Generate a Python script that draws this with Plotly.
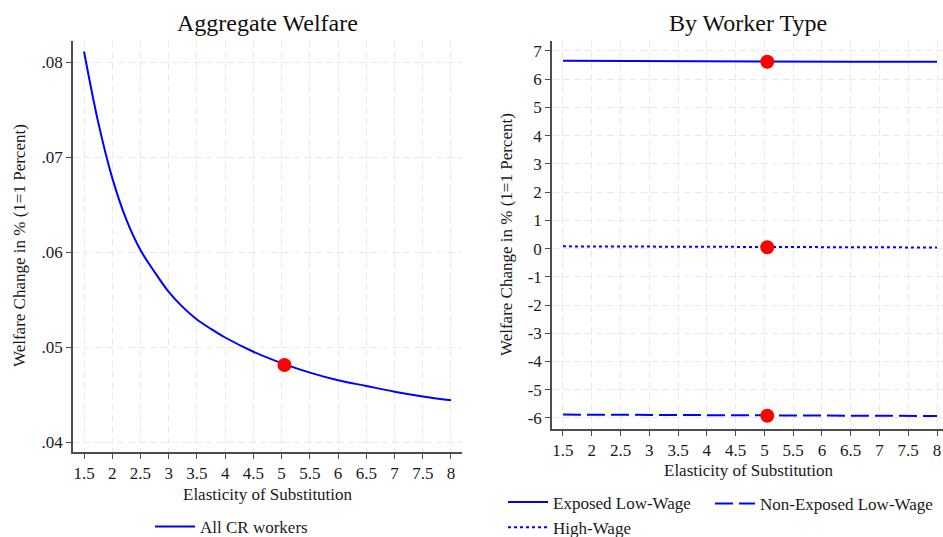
import plotly.graph_objects as go

# ---------------- data ----------------
sigma_agg = [1.5, 1.75, 2.0, 2.25, 2.5, 2.75, 3.0, 3.25, 3.5, 3.75, 4.0, 4.5, 5.0,
             5.5, 6.0, 6.5, 7.0, 7.5, 8.0]
agg_welfare = [0.0811, 0.0737, 0.0678, 0.0634, 0.0602, 0.0579, 0.0558, 0.0542,
               0.0529, 0.0519, 0.0510, 0.0495, 0.0483, 0.0473, 0.0465, 0.0459,
               0.0453, 0.0448, 0.0444]

sigma = [1.5, 2.0, 2.5, 3.0, 3.5, 4.0, 4.5, 5.0, 5.5, 6.0, 6.5, 7.0, 7.5, 8.0]
exposed_low = [6.65, 6.645, 6.64, 6.635, 6.63, 6.628, 6.625,
               6.623, 6.622, 6.62, 6.62, 6.62, 6.618, 6.618]
nonexposed_low = [-5.88, -5.885, -5.89, -5.895, -5.90, -5.905, -5.91,
                  -5.915, -5.92, -5.92, -5.925, -5.925, -5.93, -5.93]
high_wage = [0.08, 0.075, 0.07, 0.065, 0.06, 0.057, 0.054,
             0.052, 0.05, 0.048, 0.046, 0.044, 0.042, 0.04]

sigma_base = [5.05]
agg_base = [0.0481]
type_base = [6.62, 0.05, -5.92]

x_ticks = [1.5, 2, 2.5, 3, 3.5, 4, 4.5, 5, 5.5, 6, 6.5, 7, 7.5, 8]
x_ticklabels = ["1.5", "2", "2.5", "3", "3.5", "4", "4.5", "5", "5.5", "6",
                "6.5", "7", "7.5", "8"]
agg_ticks = [0.04, 0.05, 0.06, 0.07, 0.08]
agg_ticklabels = [".04", ".05", ".06", ".07", ".08"]
type_ticks = [-6, -5, -4, -3, -2, -1, 0, 1, 2, 3, 4, 5, 6, 7]
type_ticklabels = [str(v) for v in type_ticks]

# ---------------- styling ----------------
W, H = 943, 537
OFF = 0  # page body margin removed via post_script
FONT = "Liberation Serif, Times New Roman, serif"
AX = "#4d4d4d"
GRID = "#e9e9e9"
BLUE = "#0000ff"
RED = "#ff0000"
TXT = "#1a1a1a"

def px_x(p):
    return (p - OFF) / W

def px_y(p):
    return 1 - (p - OFF) / H

fig = go.Figure()

# Left panel
fig.add_trace(go.Scatter(x=sigma_agg, y=agg_welfare, mode="lines", name="All CR workers",
                         line=dict(color=BLUE, width=2, shape="spline", smoothing=1.0),
                         xaxis="x", yaxis="y", legend="legend"))
fig.add_trace(go.Scatter(x=sigma_base, y=agg_base, mode="markers", showlegend=False,
                         marker=dict(color=RED, size=14), xaxis="x", yaxis="y"))

# Right panel
fig.add_trace(go.Scatter(x=sigma, y=exposed_low, mode="lines", name="Exposed Low-Wage",
                         line=dict(color=BLUE, width=2),
                         xaxis="x2", yaxis="y2", legend="legend2"))
fig.add_trace(go.Scatter(x=sigma, y=nonexposed_low, mode="lines", name="Non-Exposed Low-Wage",
                         line=dict(color=BLUE, width=2, dash="18px,6px"),
                         xaxis="x2", yaxis="y2", legend="legend3"))
fig.add_trace(go.Scatter(x=sigma, y=high_wage, mode="lines", name="High-Wage",
                         line=dict(color=BLUE, width=2, dash="3px,3px"),
                         xaxis="x2", yaxis="y2", legend="legend2"))
fig.add_trace(go.Scatter(x=sigma_base * 3, y=type_base, mode="markers", showlegend=False,
                         marker=dict(color=RED, size=14), xaxis="x2", yaxis="y2"))

axis_common = dict(showline=True, linecolor=AX, linewidth=1.5, ticks="outside",
                   ticklen=5, tickwidth=1.2, tickcolor=AX, showgrid=True,
                   gridcolor=GRID, gridwidth=1, griddash="7px,4px", zeroline=False,
                   tickfont=dict(family=FONT, size=17, color=TXT), mirror=False,
                   automargin=False)

leg_common = dict(xref="container", yref="container", xanchor="left", yanchor="middle",
                  orientation="v", bgcolor="rgba(0,0,0,0)", itemwidth=40,
                  font=dict(family=FONT, size=17, color=TXT))

fig.update_layout(
    width=W, height=H, margin=dict(l=0, r=0, t=0, b=0, autoexpand=False),
    paper_bgcolor="white", plot_bgcolor="white",
    font=dict(family=FONT, size=17, color=TXT),
    xaxis=dict(domain=[px_x(73), px_x(462)], range=[1.305, 8.195], anchor="y",
               tickvals=x_ticks, ticktext=x_ticklabels, **axis_common),
    yaxis=dict(domain=[px_y(452), px_y(41)], range=[0.038947, 0.08221], anchor="x",
               tickvals=agg_ticks, ticktext=agg_ticklabels, **axis_common),
    xaxis2=dict(domain=[px_x(552), px_x(943)], range=[1.3092, 8.104], anchor="y2",
                tickvals=x_ticks, ticktext=x_ticklabels, **axis_common),
    yaxis2=dict(domain=[px_y(429), px_y(41)], range=[-6.39, 7.354], anchor="x2",
                tickvals=type_ticks, ticktext=type_ticklabels, **axis_common),
    legend=dict(x=px_x(150), y=px_y(527), **leg_common),
    legend2=dict(x=px_x(503), y=px_y(515), **leg_common),
    legend3=dict(x=px_x(710), y=px_y(504), **leg_common),
)

ann_font = dict(family=FONT, size=17, color=TXT)
title_font = dict(family=FONT, size=24, color="#111")
fig.add_annotation(text="Aggregate Welfare", x=px_x(267.5), y=px_y(23), xref="paper",
                   yref="paper", showarrow=False, font=title_font,
                   xanchor="center", yanchor="middle")
fig.add_annotation(text="By Worker Type", x=px_x(747.5), y=px_y(23), xref="paper",
                   yref="paper", showarrow=False, font=title_font,
                   xanchor="center", yanchor="middle")
fig.add_annotation(text="Elasticity of Substitution", x=px_x(267.5), y=px_y(494),
                   xref="paper", yref="paper", showarrow=False, font=ann_font,
                   xanchor="center", yanchor="middle")
fig.add_annotation(text="Elasticity of Substitution", x=px_x(749), y=px_y(470),
                   xref="paper", yref="paper", showarrow=False, font=ann_font,
                   xanchor="center", yanchor="middle")
fig.add_annotation(text="Welfare Change in % (1=1 Percent)", x=px_x(19), y=px_y(246),
                   xref="paper", yref="paper", showarrow=False, font=ann_font,
                   textangle=-90, xanchor="center", yanchor="middle")
fig.add_annotation(text="Welfare Change in % (1=1 Percent)", x=px_x(506), y=px_y(235),
                   xref="paper", yref="paper", showarrow=False, font=ann_font,
                   textangle=-90, xanchor="center", yanchor="middle")

fig.write_html("out.html",
               config={"displayModeBar": False},
               post_script="document.body.style.margin='0px';"
                           "document.body.style.overflow='hidden';")
